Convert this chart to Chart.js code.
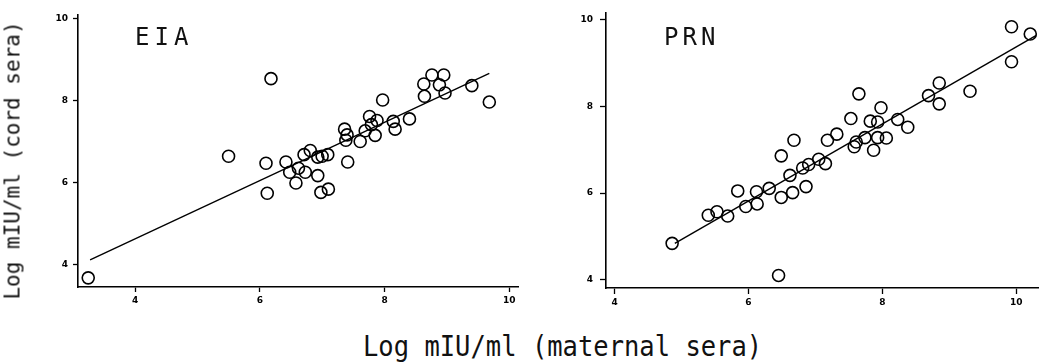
<!DOCTYPE html>
<html>
<head>
<meta charset="utf-8">
<script src="https://cdn.jsdelivr.net/npm/chart.js@4"></script>
<style>
  html, body { margin: 0; padding: 0; background: #fff; overflow: hidden; }
  body { width: 1039px; height: 362px; position: relative; }
  canvas { position: absolute; }
  .lbl { position: absolute; font-family: "DejaVu Sans Mono", monospace; color: #111; white-space: nowrap; line-height: 1; }
</style>
</head>
<body>
<canvas id="eia" style="left:0;top:0"></canvas>
<canvas id="prn" style="left:530px;top:0"></canvas>
<div class="lbl" id="ytitle" style="font-size:21px;left:-127px;top:150px;transform:rotate(-90deg);transform-origin:center;width:280px;text-align:center">Log mIU/ml (cord sera)</div>
<div class="lbl" style="font-size:25.5px;left:363px;top:332px;transform:scaleY(1.12);transform-origin:top left">Log mIU/ml (maternal sera)</div>
<div class="lbl" style="font-size:24px;left:135px;top:25px;letter-spacing:5px;transform:scaleY(1.05)">EIA</div>
<div class="lbl" style="font-size:24px;left:664px;top:25px;letter-spacing:4px;transform:scaleY(1.05)">PRN</div>
<script>
// EIA panel
const eiaX = [3.25, 5.50, 6.10, 6.12, 6.18, 6.42, 6.48, 6.58, 6.62, 6.71, 6.73, 6.81, 6.93, 6.93, 6.98, 7.00, 7.09, 7.10, 7.36, 7.38, 7.40, 7.41, 7.61, 7.69, 7.76, 7.79, 7.85, 7.88, 7.97, 8.14, 8.17, 8.40, 8.63, 8.64, 8.76, 8.88, 8.95, 8.97, 9.40, 9.68];
const eiaY = [3.68, 6.64, 6.47, 5.74, 8.53, 6.50, 6.25, 5.99, 6.35, 6.68, 6.25, 6.78, 6.17, 6.62, 5.76, 6.64, 6.68, 5.84, 7.30, 7.03, 7.16, 6.50, 7.00, 7.26, 7.61, 7.41, 7.15, 7.51, 8.01, 7.49, 7.30, 7.55, 8.40, 8.10, 8.62, 8.38, 8.62, 8.18, 8.36, 7.96];
const eiaFitX = [3.28, 9.68];
const eiaFitY = [4.12, 8.66];

// PRN panel
const prnX = [4.86, 5.40, 5.53, 5.69, 5.84, 5.96, 6.12, 6.13, 6.31, 6.49, 6.49, 6.45, 6.62, 6.66, 6.68, 6.81, 6.86, 6.90, 7.05, 7.15, 7.18, 7.32, 7.53, 7.58, 7.61, 7.65, 7.74, 7.82, 7.87, 7.93, 7.93, 7.98, 8.06, 8.23, 8.38, 8.69, 8.85, 8.85, 9.31, 9.93, 9.93, 10.21];
const prnY = [4.84, 5.49, 5.57, 5.47, 6.05, 5.69, 6.03, 5.75, 6.11, 6.86, 5.90, 4.10, 6.41, 6.01, 7.22, 6.58, 6.15, 6.66, 6.78, 6.68, 7.22, 7.36, 7.72, 7.07, 7.18, 8.29, 7.28, 7.66, 6.99, 7.64, 7.28, 7.97, 7.27, 7.70, 7.52, 8.25, 8.54, 8.06, 8.35, 9.84, 9.03, 9.67];
const prnFitX = [4.90, 10.30];
const prnFitY = [4.84, 9.64];

const xTicks = [4, 6, 8, 10];
const yTicks = [4, 6, 8, 10];

function pairs(xs, ys) {
  return xs.map((x, i) => ({ x: x, y: ys[i] }));
}

function makeChart(id, w, h, pts, fit, opt) {
  const cv = document.getElementById(id);
  cv.width = w;
  cv.height = h;
  cv.style.width = w + "px";
  cv.style.height = h + "px";
  const axisStyle = (len, pad) => ({
    grid: { display: true, drawOnChartArea: false, drawTicks: true, tickLength: len, tickWidth: 1.3, tickColor: "#000" },
    border: { display: true, color: "#000", width: 1.6 },
    ticks: { color: "#000", padding: pad, autoSkip: false, font: { family: "DejaVu Sans", size: 9, weight: "bold" } },
  });
  return new Chart(cv, {
    type: "scatter",
    data: {
      datasets: [
        {
          data: pts,
          pointStyle: "circle",
          pointRadius: 6,
          pointHoverRadius: 6,
          borderColor: "#000",
          backgroundColor: "rgba(0,0,0,0)",
          pointBorderWidth: 1.6,
          clip: false,
        },
        {
          data: fit,
          type: "line",
          showLine: true,
          borderColor: "#000",
          borderWidth: 1.4,
          pointRadius: 0,
          fill: false,
          tension: 0,
          clip: false,
        },
      ],
    },
    options: {
      responsive: false,
      animation: false,
      events: [],
      layout: { padding: { top: opt.top, right: opt.right, left: 0, bottom: 0 } },
      plugins: { legend: { display: false }, tooltip: { enabled: false } },
      scales: {
        x: Object.assign(axisStyle(opt.tick, 3), {
          type: "linear",
          min: opt.xmin,
          max: opt.xmax,
          afterBuildTicks: (s) => { s.ticks = xTicks.map((v) => ({ value: v })); },
          afterFit: (s) => { s.height = opt.xh; },
        }),
        y: Object.assign(axisStyle(opt.tick, opt.ypad), {
          type: "linear",
          min: opt.ymin,
          max: opt.ymax,
          afterBuildTicks: (s) => { s.ticks = yTicks.map((v) => ({ value: v })); },
          afterFit: (s) => { s.width = opt.yw; },
        }),
      },
    },
  });
}

makeChart("eia", 530, 320, pairs(eiaX, eiaY), pairs(eiaFitX, eiaFitY), {
  top: 15, right: 12, xh: 33, yw: 78, tick: 5, ypad: 5,
  xmin: 3.086, xmax: 10.14, ymin: 3.457, ymax: 10.08,
});

makeChart("prn", 540, 320, pairs(prnX, prnY), pairs(prnFitX, prnFitY), {
  top: 12, right: 0, xh: 32, yw: 76, tick: 6, ypad: 7,
  xmin: 3.872, xmax: 10.69, ymin: 3.81, ymax: 10.17,
});
</script>
</body>
</html>
